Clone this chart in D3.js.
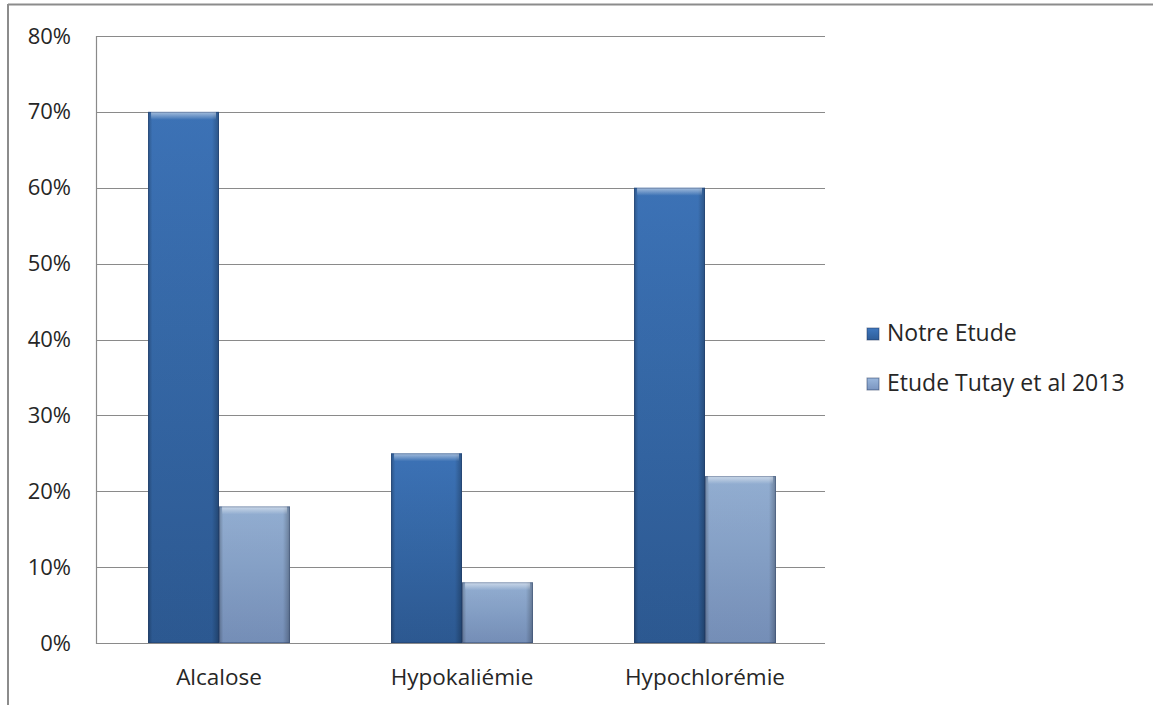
<!DOCTYPE html>
<html>
<head>
<meta charset="utf-8">
<script src="https://cdn.jsdelivr.net/npm/d3@7"></script>
<style>
  html, body { margin: 0; padding: 0; background: #fff; }
  svg { display: block; }
  text { font-family: "Open Sans", "Noto Sans", sans-serif; fill: #262626; }
</style>
</head>
<body>
<svg id="chart" width="1153" height="705"></svg>
<script>
// Data
const categories = ["Alcalose", "Hypokaliémie", "Hypochlorémie"];
const seriesNames = ["Notre Etude", "Etude Tutay et al 2013"];
const notreEtude = [0.70, 0.25, 0.60];
const tutay2013 = [0.18, 0.08, 0.22];
const yTicks = [0, 0.1, 0.2, 0.3, 0.4, 0.5, 0.6, 0.7, 0.8];

const svg = d3.select("#chart");
const W = 1153, H = 705;

// chart frame (top and left edges)
svg.append("line").attr("x1", 8).attr("x2", W).attr("y1", 4.5).attr("y2", 4.5)
  .attr("stroke", "#8c8c8c").attr("stroke-width", 2);
svg.append("line").attr("x1", 8).attr("x2", 8).attr("y1", 4).attr("y2", H)
  .attr("stroke", "#8c8c8c").attr("stroke-width", 2);

const plot = { left: 96, right: 825, top: 36, bottom: 643 };

const x0 = d3.scaleBand().domain(categories).range([plot.left + 1.5, plot.right + 1.5]).paddingInner(0.416).paddingOuter(0.208);
const x1 = d3.scaleBand().domain(seriesNames).range([0, x0.bandwidth()]).padding(0);
const y = d3.scaleLinear().domain([0, 0.8]).range([plot.bottom, plot.top]);

// gradients
const defs = svg.append("defs");
function barGradients(id, topC, botC) {
  const v = defs.append("linearGradient").attr("id", id + "-v").attr("x1", 0).attr("y1", 0).attr("x2", 0).attr("y2", 1);
  v.append("stop").attr("offset", "0%").attr("stop-color", topC);
  v.append("stop").attr("offset", "100%").attr("stop-color", botC);
}
barGradients("dark", "#3f78bf", "#2e5d98");
barGradients("light", "#9ab7dc", "#7a95c0");
const hShade = defs.append("linearGradient").attr("id", "hshade").attr("x1", 0).attr("y1", 0).attr("x2", 1).attr("y2", 0);
hShade.append("stop").attr("offset", "0%").attr("stop-color", "#000").attr("stop-opacity", 0.28);
hShade.append("stop").attr("offset", "6%").attr("stop-color", "#000").attr("stop-opacity", 0.05);
hShade.append("stop").attr("offset", "90%").attr("stop-color", "#000").attr("stop-opacity", 0.05);
hShade.append("stop").attr("offset", "100%").attr("stop-color", "#000").attr("stop-opacity", 0.3);
const topBevel = defs.append("linearGradient").attr("id", "bevel").attr("x1", 0).attr("y1", 0).attr("x2", 0).attr("y2", 1);
topBevel.append("stop").attr("offset", "0%").attr("stop-color", "#fff").attr("stop-opacity", 0.55);
topBevel.append("stop").attr("offset", "100%").attr("stop-color", "#fff").attr("stop-opacity", 0);

// gridlines
svg.append("g").selectAll("line").data(yTicks).join("line")
  .attr("x1", plot.left).attr("x2", plot.right)
  .attr("y1", d => Math.round(y(d)) + 0.5).attr("y2", d => Math.round(y(d)) + 0.5)
  .attr("stroke", "#8a8a8a").attr("stroke-width", 1.2);
// value axis line
svg.append("line").attr("x1", plot.left + 0.5).attr("x2", plot.left + 0.5)
  .attr("y1", plot.top).attr("y2", plot.bottom + 1)
  .attr("stroke", "#8a8a8a").attr("stroke-width", 1.2);

// y axis labels
const yAxis = d3.axisLeft(y).tickValues(yTicks).tickFormat(d3.format(".0%")).tickSize(0).tickPadding(25);
const gy = svg.append("g").attr("transform", `translate(${plot.left},0)`).call(yAxis);
gy.select(".domain").remove();
gy.selectAll("text").style("font-size", "22px").style("font-family", "'Open Sans', sans-serif").attr("fill", "#262626");

// x axis labels
const xAxis = d3.axisBottom(x0).tickSize(0).tickPadding(26);
const gx = svg.append("g").attr("transform", `translate(0,${plot.bottom})`).call(xAxis);
gx.select(".domain").remove();
gx.selectAll("text").style("font-size", "22.5px").style("font-family", "'Open Sans', sans-serif").attr("fill", "#262626");

// bars
const series = [
  { name: seriesNames[0], values: notreEtude, grad: "dark" },
  { name: seriesNames[1], values: tutay2013, grad: "light" }
];
const bars = [];
series.forEach(s => categories.forEach((c, i) => bars.push({ cat: c, s: s.name, v: s.values[i], grad: s.grad })));

const gb = svg.append("g");
const bx = d => x0(d.cat) + x1(d.s);
const bw = x1.bandwidth();
gb.selectAll("rect.fill").data(bars).join("rect").attr("class", "fill")
  .attr("x", bx).attr("width", bw)
  .attr("y", d => y(d.v)).attr("height", d => y(0) - y(d.v))
  .attr("fill", d => `url(#${d.grad}-v)`);
gb.selectAll("rect.shade").data(bars).join("rect").attr("class", "shade")
  .attr("x", bx).attr("width", bw)
  .attr("y", d => y(d.v)).attr("height", d => y(0) - y(d.v))
  .attr("fill", "url(#hshade)");
gb.selectAll("rect.bevel").data(bars).join("rect").attr("class", "bevel")
  .attr("x", d => bx(d) + 3).attr("width", bw - 6)
  .attr("y", d => y(d.v)).attr("height", 8)
  .attr("fill", "url(#bevel)");
gb.selectAll("rect.edge").data(bars).join("rect").attr("class", "edge")
  .attr("x", d => bx(d) + 0.5).attr("width", bw - 1)
  .attr("y", d => y(d.v) + 0.5).attr("height", d => y(0) - y(d.v) - 1)
  .attr("fill", "none").attr("stroke", "rgba(30,50,90,0.35)").attr("stroke-width", 1);

// legend
const legend = svg.append("g");
const legItems = series.map((s, i) => ({ ...s, base: 341 + i * 50 }));
legend.selectAll("rect").data(legItems).join("rect")
  .attr("x", 867).attr("y", d => d.base - 13).attr("width", 12).attr("height", 12)
  .attr("fill", d => `url(#${d.grad}-v)`).attr("stroke", "rgba(30,50,90,0.5)").attr("stroke-width", 1);
legend.selectAll("text").data(legItems).join("text")
  .attr("x", 887).attr("y", d => d.base)
  .style("font-size", "23px")
  .text(d => d.name);
</script>
</body>
</html>
